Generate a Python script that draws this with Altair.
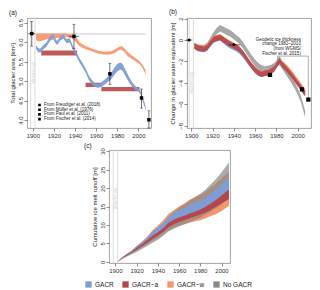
import altair as alt
import pandas as pd

FONT = "Liberation Sans"
C_BLUE = "#7F9CD4"
C_RED = "#B4474B"
C_RECT = "#C0595A"
C_ORANGE = "#F4956A"
C_GREY = "#8A8A8A"
C_GREY_B = "#A8A8A8"
C_WARM = "#D4D4D4"

year_ticks = [1900, 1920, 1940, 1960, 1980, 2000]
warm_years = [1898, 1902]

# ---------------- panel (a) ----------------
a_ref_x1 = [1895]
a_ref_x2 = [2007]
a_ref_y = [6.21]

a_w_years = [1903, 1906, 1910, 1914, 1918, 1922, 1926, 1930, 1934, 1938, 1941, 1944, 1947, 1950, 1954,
             1958, 1962, 1966, 1970, 1974, 1978, 1981, 1984, 1987, 1990, 1994, 1998, 2001, 2004, 2007]
a_w_lo = [6.05, 6.02, 6.05, 6.08, 6.05, 6.10, 6.12, 6.15, 6.12, 6.08, 6.00, 5.90, 5.86, 5.82, 5.79,
          5.75, 5.71, 5.69, 5.68, 5.69, 5.73, 5.79, 5.81, 5.74, 5.64, 5.57, 5.49, 5.44, 5.34, 5.17]
a_w_hi = [6.22, 6.22, 6.22, 6.22, 6.22, 6.22, 6.22, 6.22, 6.21, 6.20, 6.15, 6.00, 5.95, 5.90, 5.86,
          5.82, 5.78, 5.76, 5.76, 5.77, 5.82, 5.87, 5.90, 5.84, 5.74, 5.66, 5.58, 5.52, 5.42, 5.28]

a_g_years = [1903, 1905, 1907, 1910, 1913, 1916, 1919, 1921, 1923, 1926, 1929, 1932, 1935, 1938, 1941,
             1944, 1947, 1950, 1953, 1956, 1959, 1962, 1965, 1968, 1971, 1974, 1977, 1980, 1983, 1985,
             1988, 1991, 1994, 1997, 2000, 2002, 2004, 2006, 2007]
a_g_lo = [5.83, 5.75, 5.73, 5.82, 5.88, 6.02, 6.12, 5.99, 5.93, 6.04, 6.09, 5.97, 5.99, 5.80, 5.66,
          5.49, 5.36, 5.22, 5.04, 4.92, 4.85, 4.83, 4.86, 4.91, 4.98, 5.04, 5.15, 5.25, 5.30, 5.27,
          5.12, 4.98, 4.86, 4.78, 4.74, 4.67, 4.50, 4.34, 4.24]
a_g_hi = [5.93, 5.85, 5.83, 5.93, 6.00, 6.13, 6.22, 6.10, 6.03, 6.15, 6.20, 6.08, 6.10, 5.90, 5.77,
          5.60, 5.47, 5.33, 5.15, 5.03, 4.95, 4.93, 4.97, 5.04, 5.12, 5.20, 5.34, 5.44, 5.48, 5.44,
          5.28, 5.12, 4.98, 4.88, 4.82, 4.76, 4.60, 4.45, 4.34]

a_rect_x1 = [1908, 1950, 1965]
a_rect_x2 = [1942, 1965, 2001]
a_rect_lo = [5.66, 4.85, 4.74]
a_rect_hi = [5.79, 4.96, 4.85]

a_src_names = ["From Freudiger et al. (2018)", "From Müller et al. (1976)",
               "From Paul et al. (2011)", "From Fischer et al. (2014)"]
a_pt_year = [1899, 1939, 1973, 2003, 2010]
a_pt_val = [6.22, 6.15, 5.19, 4.57, 4.01]
a_pt_lo = [5.90, 5.84, 4.92, 4.31, 3.80]
a_pt_hi = [6.53, 6.46, 5.46, 4.80, 4.24]
a_pt_src = [a_src_names[0], a_src_names[0], a_src_names[1], a_src_names[2], a_src_names[3]]
a_hx_lo = [1896, 1934]
a_hx_hi = [1902, 1944]
a_hx_val = [6.22, 6.15]

# ---------------- panel (b) ----------------
b_years = [1903, 1906, 1909, 1912, 1915, 1918, 1921, 1924, 1927, 1930, 1933, 1936, 1939, 1942, 1945,
           1948, 1951, 1954, 1957, 1960, 1963, 1966, 1969, 1972, 1975, 1978, 1981, 1983, 1985, 1988,
           1991, 1994, 1997, 2000, 2003, 2005, 2007]
b_red_lo = [-0.80, -1.00, -1.05, -1.10, -0.95, -0.55, -0.20, -0.10, 0.00, -0.20, -0.40, -0.60, -0.75,
            -0.90, -1.10, -1.45, -1.85, -2.30, -2.70, -3.05, -3.30, -3.45, -3.35, -3.30, -3.15, -2.95,
            -2.45, -2.20, -2.50, -2.80, -3.15, -3.50, -3.90, -4.30, -4.70, -5.00, -5.25]
b_red_hi = [-0.30, -0.50, -0.55, -0.60, -0.45, -0.05, 0.30, 0.40, 0.50, 0.30, 0.10, -0.10, -0.25,
            -0.40, -0.60, -0.95, -1.35, -1.80, -2.20, -2.55, -2.80, -2.95, -2.85, -2.80, -2.65, -2.45,
            -1.95, -1.70, -2.00, -2.30, -2.65, -3.00, -3.40, -3.80, -4.20, -4.50, -4.75]
b_blue_lo = [-0.85, -1.05, -1.10, -1.15, -1.00, -0.60, -0.25, -0.15, -0.05, -0.30, -0.55, -0.75, -0.90,
             -1.05, -1.25, -1.55, -1.95, -2.35, -2.75, -3.10, -3.35, -3.45, -3.35, -3.30, -3.10, -2.90,
             -2.35, -2.05, -2.40, -2.75, -3.10, -3.45, -3.85, -4.25, -4.65, -4.95, -5.20]
b_blue_hi = [-0.35, -0.55, -0.60, -0.65, -0.50, -0.10, 0.25, 0.35, 0.45, 0.20, -0.05, -0.20, -0.35,
             -0.50, -0.70, -1.05, -1.40, -1.85, -2.25, -2.60, -2.85, -2.95, -2.85, -2.75, -2.55, -2.35,
             -1.80, -1.50, -1.90, -2.25, -2.60, -2.95, -3.35, -3.75, -4.15, -4.45, -4.70]
b_or_lo = [-0.80, -0.95, -1.00, -1.05, -0.85, -0.45, -0.10, 0.00, 0.10, -0.10, -0.35, -0.55, -0.70,
           -0.85, -1.05, -1.40, -1.80, -2.25, -2.65, -3.00, -3.25, -3.40, -3.30, -3.25, -3.10, -2.90,
           -2.40, -2.15, -2.40, -2.70, -3.00, -3.35, -3.75, -4.15, -4.55, -4.85, -5.10]
b_or_hi = [-0.30, -0.45, -0.50, -0.55, -0.35, 0.05, 0.40, 0.50, 0.55, 0.35, 0.15, -0.05, -0.20,
           -0.35, -0.55, -0.90, -1.30, -1.75, -2.15, -2.50, -2.75, -2.90, -2.80, -2.75, -2.60, -2.40,
           -1.90, -1.65, -1.90, -2.15, -2.45, -2.80, -3.20, -3.60, -4.00, -4.30, -4.55]
b_gr_lo = [-0.80, -1.00, -1.05, -1.05, -0.85, -0.35, 0.15, 0.55, 0.80, 0.65, 0.50, 0.35, 0.15,
           -0.10, -0.35, -0.70, -1.15, -1.60, -2.05, -2.45, -2.75, -2.95, -3.05, -3.00, -2.90, -2.75,
           -2.45, -2.35, -2.65, -3.10, -3.55, -4.00, -4.50, -5.10, -5.80, -6.50, -7.25]
b_gr_hi = [-0.25, -0.40, -0.45, -0.45, -0.25, 0.25, 0.75, 1.15, 1.40, 1.25, 1.10, 0.95, 0.75,
           0.50, 0.25, -0.10, -0.55, -1.00, -1.45, -1.85, -2.15, -2.35, -2.45, -2.40, -2.30, -2.15,
           -1.85, -1.75, -2.05, -2.50, -2.95, -3.40, -3.90, -4.50, -5.20, -5.90, -6.60]

b_kind_names = ["Estimates from volume-area scaling", "From thickness data (Matthias Huss)"]
b_pt_year = [1898, 1940, 1974, 2004, 2010]
b_pt_val = [0.0, -0.45, -3.25, -4.6, -5.55]
b_pt_kind = [b_kind_names[0], b_kind_names[0], b_kind_names[1], b_kind_names[1], b_kind_names[1]]
b_hx_lo = [1895, 1934.5]
b_hx_hi = [1901, 1946]
b_hx_val = [0.0, -0.45]

b_note_text = ["Geodetic ice thickness\nchange 1981\u20132010\n(from WGMS/\nFischer et al. 2015)"]
b_note_x = [2003]
b_note_y = [0.3]
b_path_x = [1981, 1981, 2010, 2010]
b_path_y = [-1.85, -1.5, -1.5, -5.4]

# ---------------- panel (c) ----------------
c_series = ["GACR", "GACR\u2212a", "GACR\u2212w", "No GACR"]
c_colors = [C_BLUE, C_RED, C_ORANGE, C_GREY]
c_years = [1902, 1905, 1910, 1915, 1920, 1925, 1930, 1935, 1940, 1945, 1950, 1955, 1960, 1965, 1970,
           1975, 1980, 1985, 1990, 1995, 2000, 2005, 2007]
c_w_lo = [0, 0.6, 1.5, 2.3, 3.0, 4.0, 4.8, 5.8, 6.5, 7.6, 8.6, 9.3, 9.8, 10.2, 10.6, 11.0, 11.3, 11.8,
          12.4, 13.0, 13.8, 14.8, 15.2]
c_w_hi = [0, 0.9, 2.0, 3.0, 4.2, 5.5, 6.8, 8.6, 9.8, 11.2, 13.0, 14.0, 15.0, 15.8, 16.8, 17.6, 18.3,
          19.0, 20.2, 21.3, 22.6, 24.0, 24.5]
c_n_lo = [0, 0.5, 1.3, 2.0, 2.7, 3.5, 4.3, 5.2, 6.0, 7.0, 8.2, 9.0, 9.6, 10.2, 10.8, 11.4, 12.0, 12.8,
          13.7, 14.6, 15.6, 16.8, 17.2]
c_n_hi = [0, 0.8, 1.8, 2.7, 3.7, 4.8, 6.0, 7.6, 8.8, 10.3, 12.2, 13.5, 14.6, 15.6, 16.6, 17.5, 18.4,
          19.6, 21.0, 22.5, 24.2, 26.2, 27.0]
c_g_lo = [0, 0.7, 1.6, 2.4, 3.3, 4.3, 5.3, 6.3, 7.2, 8.2, 9.5, 10.3, 10.9, 11.4, 11.9, 12.4, 12.9, 13.5,
          14.2, 15.0, 16.0, 16.9, 17.2]
c_g_hi = [0, 0.9, 2.0, 2.9, 4.3, 5.3, 6.6, 8.2, 9.3, 10.5, 12.2, 13.2, 14.0, 14.6, 15.4, 16.0, 16.6,
          17.4, 18.6, 19.7, 21.0, 22.4, 22.8]
c_a_lo = [0, 0.7, 1.6, 2.4, 3.3, 4.2, 5.2, 6.2, 7.1, 8.1, 9.4, 10.2, 10.8, 11.3, 11.8, 12.3, 12.8, 13.4,
          14.1, 14.9, 15.8, 16.7, 17.0]
c_a_hi = [0, 0.8, 1.9, 2.7, 3.8, 4.8, 5.9, 7.1, 8.0, 9.1, 10.6, 11.4, 12.0, 12.5, 13.1, 13.6, 14.2,
          14.9, 15.8, 16.8, 17.9, 19.2, 19.6]


def xenc(field, domain):
    return alt.X(f"{field}:Q", scale=alt.Scale(domain=domain, nice=False, zero=False),
                 axis=alt.Axis(values=year_ticks, format="d", title=None))


def yenc(field, domain, ticks, fmt, title):
    return alt.Y(f"{field}:Q", scale=alt.Scale(domain=domain, nice=False, zero=False),
                 axis=alt.Axis(values=ticks, format=fmt, title=title))


TITLE_KW = dict(anchor="start", frame="bounds", fontSize=6.5, fontWeight="normal", offset=1,
                color="#222222", font=FONT)

SMALL_LEG = dict(title=None, orient="none", labelFontSize=4.5, padding=0,
                 labelLimit=300, symbolFillColor="black", symbolStrokeColor="black",
                 labelColor="#222222", labelFont=FONT, labelOffset=2, clipHeight=4)

INDEP = dict(shape="independent", color="independent", size="independent")

# ---- build (a)
AX = [1894.5, 2012]
AY = [3.8, 6.62]
a_yt = [4.0, 4.5, 5.0, 5.5, 6.0, 6.5]
a_title = "Total glacier area [km\u00b2]"


def ay(field):
    return yenc(field, AY, a_yt, ".1f", a_title)


a_layers = []
a_layers.append(alt.Chart(pd.DataFrame({"x1": a_ref_x1, "x2": a_ref_x2, "y": a_ref_y})).mark_rule(
    color="#BDBDBD", strokeWidth=0.8).encode(x=xenc("x1", AX), x2="x2:Q", y=ay("y")))
a_layers.append(alt.Chart(pd.DataFrame({"year": warm_years})).mark_rule(
    color=C_WARM, strokeWidth=0.8).encode(x=xenc("year", AX)))
a_layers.append(alt.Chart(pd.DataFrame({"year": [1900], "y": [5.22], "t": ["Warm up"]})).mark_text(
    angle=270, color=C_WARM, fontSize=5.5, font=FONT).encode(x=xenc("year", AX), y=ay("y"), text="t:N"))
a_layers.append(alt.Chart(pd.DataFrame({"year": a_w_years, "lo": a_w_lo, "hi": a_w_hi})).mark_area(
    color=C_ORANGE, opacity=0.9).encode(x=xenc("year", AX), y=ay("lo"), y2="hi:Q"))
a_layers.append(alt.Chart(pd.DataFrame({"x1": a_rect_x1, "x2": a_rect_x2, "lo": a_rect_lo,
                                        "hi": a_rect_hi})).mark_rect(color=C_RECT).encode(
    x=xenc("x1", AX), x2="x2:Q", y=ay("lo"), y2="hi:Q"))
a_layers.append(alt.Chart(pd.DataFrame({"year": a_g_years, "lo": a_g_lo, "hi": a_g_hi})).mark_area(
    color=C_BLUE, opacity=0.95).encode(x=xenc("year", AX), y=ay("lo"), y2="hi:Q"))
df_apt = pd.DataFrame({"year": a_pt_year, "val": a_pt_val, "lo": a_pt_lo, "hi": a_pt_hi, "src": a_pt_src})
a_layers.append(alt.Chart(df_apt).mark_rule(color="#111111", strokeWidth=0.6).encode(
    x=xenc("year", AX), y=ay("lo"), y2="hi:Q"))
a_layers.append(alt.Chart(df_apt).mark_tick(orient="horizontal", color="#111111", size=3, thickness=0.6).encode(
    x=xenc("year", AX), y=ay("lo")))
a_layers.append(alt.Chart(df_apt).mark_tick(orient="horizontal", color="#111111", size=3, thickness=0.6).encode(
    x=xenc("year", AX), y=ay("hi")))
a_layers.append(alt.Chart(pd.DataFrame({"lo": a_hx_lo, "hi": a_hx_hi, "val": a_hx_val})).mark_rule(
    color="#111111", strokeWidth=0.6).encode(x=xenc("lo", AX), x2="hi:Q", y=ay("val")))
a_layers.append(alt.Chart(df_apt).mark_point(filled=True, color="black", size=12, opacity=1).encode(
    x=xenc("year", AX), y=ay("val"),
    shape=alt.Shape("src:N", scale=alt.Scale(domain=a_src_names, range=["square"] * 4),
                    legend=alt.Legend(legendX=10, legendY=85, symbolSize=7, rowPadding=-0.3, **SMALL_LEG))))
chart_a = alt.layer(*a_layers).properties(width=124, height=110, title=alt.TitleParams("(a)", **TITLE_KW))

# ---- build (b)
BX = [1896, 2012.5]
BY = [-8.2, 2.05]
b_yt = [-8, -6, -4, -2, 0, 2]
b_title = "Change in glacier water equivalent [m]"


def by(field):
    return yenc(field, BY, b_yt, "d", b_title)


def b_band(lo, hi, color, op):
    return alt.Chart(pd.DataFrame({"year": b_years, "lo": lo, "hi": hi})).mark_area(
        color=color, opacity=op).encode(x=xenc("year", BX), y=by("lo"), y2="hi:Q")


b_layers = []
b_layers.append(alt.Chart(pd.DataFrame({"year": warm_years})).mark_rule(
    color=C_WARM, strokeWidth=0.8).encode(x=xenc("year", BX)))
b_layers.append(alt.Chart(pd.DataFrame({"year": [1900], "y": [-3.97], "t": ["Warm up"]})).mark_text(
    angle=270, color=C_WARM, fontSize=5.5, font=FONT).encode(x=xenc("year", BX), y=by("y"), text="t:N"))
b_layers.append(b_band(b_gr_lo, b_gr_hi, C_GREY_B, 1))
b_layers.append(b_band(b_blue_lo, b_blue_hi, C_BLUE, 1))
b_layers.append(b_band(b_or_lo, b_or_hi, C_ORANGE, 1))
b_layers.append(b_band(b_red_lo, b_red_hi, C_RED, 0.92))
b_layers.append(alt.Chart(pd.DataFrame({"x": b_path_x, "y": b_path_y, "o": [0, 1, 2, 3]})).mark_line(
    color="#8C8C8C", strokeWidth=0.7).encode(x=xenc("x", BX), y=by("y"), order="o:Q"))
b_layers.append(alt.Chart(pd.DataFrame({"x": b_note_x, "y": b_note_y, "t": b_note_text})).mark_text(
    align="right", baseline="top", lineBreak="\n", fontSize=4.5, color="#222222", font=FONT,
    lineHeight=4.6).encode(x=xenc("x", BX), y=by("y"), text="t:N"))
b_layers.append(alt.Chart(pd.DataFrame({"lo": b_hx_lo, "hi": b_hx_hi, "val": b_hx_val})).mark_rule(
    color="#111111", strokeWidth=0.6).encode(x=xenc("lo", BX), x2="hi:Q", y=by("val")))
b_layers.append(alt.Chart(pd.DataFrame({"year": b_pt_year, "val": b_pt_val, "kind": b_pt_kind})).mark_point(
    filled=True, color="black", opacity=1).encode(
    x=xenc("year", BX), y=by("val"),
    shape=alt.Shape("kind:N", scale=alt.Scale(domain=b_kind_names, range=["circle", "square"]),
                    legend=alt.Legend(legendX=12, legendY=97, symbolSize=8, rowPadding=0, **SMALL_LEG)),
    size=alt.Size("kind:N", scale=alt.Scale(domain=b_kind_names, range=[9, 18]), legend=None)))
chart_b = alt.layer(*b_layers).properties(width=124, height=110, title=alt.TitleParams("(b)", **TITLE_KW))

# ---- build (c)
CX = [1894, 2008]
CY = [-0.3, 30.3]
c_yt = [0, 5, 10, 15, 20, 25, 30]
c_title = "Cumulative ice melt runoff [m]"


def cy(field):
    return yenc(field, CY, c_yt, "d", c_title)


color_c = alt.Color("series:N", scale=alt.Scale(domain=c_series, range=c_colors),
                    legend=alt.Legend(title=None, orient="none", legendX=-24, legendY=131,
                                      direction="horizontal", columns=4, symbolType="square",
                                      symbolSize=40, symbolStrokeWidth=0, symbolOpacity=1,
                                      labelFontSize=6.5, labelFont=FONT, labelColor="#222222",
                                      columnPadding=8, labelOffset=3, padding=0))


def c_band(name, lo, hi, op):
    df = pd.DataFrame({"year": c_years, "lo": lo, "hi": hi, "series": [name] * len(c_years)})
    return alt.Chart(df).mark_area(opacity=op).encode(
        x=xenc("year", CX), y=cy("lo"), y2="hi:Q", color=color_c)


c_layers = []
c_layers.append(alt.Chart(pd.DataFrame({"year": warm_years})).mark_rule(
    color=C_WARM, strokeWidth=0.8).encode(x=xenc("year", CX)))
c_layers.append(alt.Chart(pd.DataFrame({"year": [1900], "y": [17.2], "t": ["Warm up"]})).mark_text(
    angle=270, color=C_WARM, fontSize=5.5, font=FONT).encode(x=xenc("year", CX), y=cy("y"), text="t:N"))
c_layers.append(c_band(c_series[2], c_w_lo, c_w_hi, 1))
c_layers.append(c_band(c_series[3], c_n_lo, c_n_hi, 0.72))
c_layers.append(c_band(c_series[0], c_g_lo, c_g_hi, 1))
c_layers.append(c_band(c_series[1], c_a_lo, c_a_hi, 1))
c_layers.append(alt.Chart(pd.DataFrame({"t": ["(c)"]})).mark_text(
    align="left", baseline="bottom", fontSize=6.5, color="#222222", font=FONT).encode(
    x=alt.value(-25), y=alt.value(-1), text="t:N"))
chart_c = alt.layer(*c_layers).properties(width=121, height=113)

# empty, invisible panel that pushes (c) to its place under the middle of the figure
spacer = alt.Chart(pd.DataFrame({"t": [""]})).mark_text(opacity=0).encode(
    text="t:N").properties(width=56, height=10, view=alt.ViewBackground(strokeOpacity=0))

top = alt.hconcat(chart_a, chart_b, spacing=16).resolve_scale(**INDEP).resolve_legend(**INDEP)
bottom = alt.hconcat(spacer, chart_c, spacing=0).resolve_scale(**INDEP).resolve_legend(**INDEP)
chart = alt.vconcat(top, bottom, spacing=3).resolve_scale(**INDEP).resolve_legend(**INDEP).properties(padding=0)

chart = chart.configure(font=FONT).configure_view(stroke="#9A9A9A", strokeWidth=0.9).configure_axis(
    domain=False, grid=False, ticks=True, tickColor="#444444", tickSize=3, tickWidth=0.6,
    labelFontSize=6, labelColor="#333333", labelFont=FONT, labelPadding=1,
    titleFont=FONT, titleFontSize=6, titleFontWeight="normal", titleColor="#222222", titlePadding=2
).configure_axisLeft(labelAngle=270, labelAlign="center", labelBaseline="bottom")

chart.save("out.html", embed_options={"renderer": "svg", "actions": False})
